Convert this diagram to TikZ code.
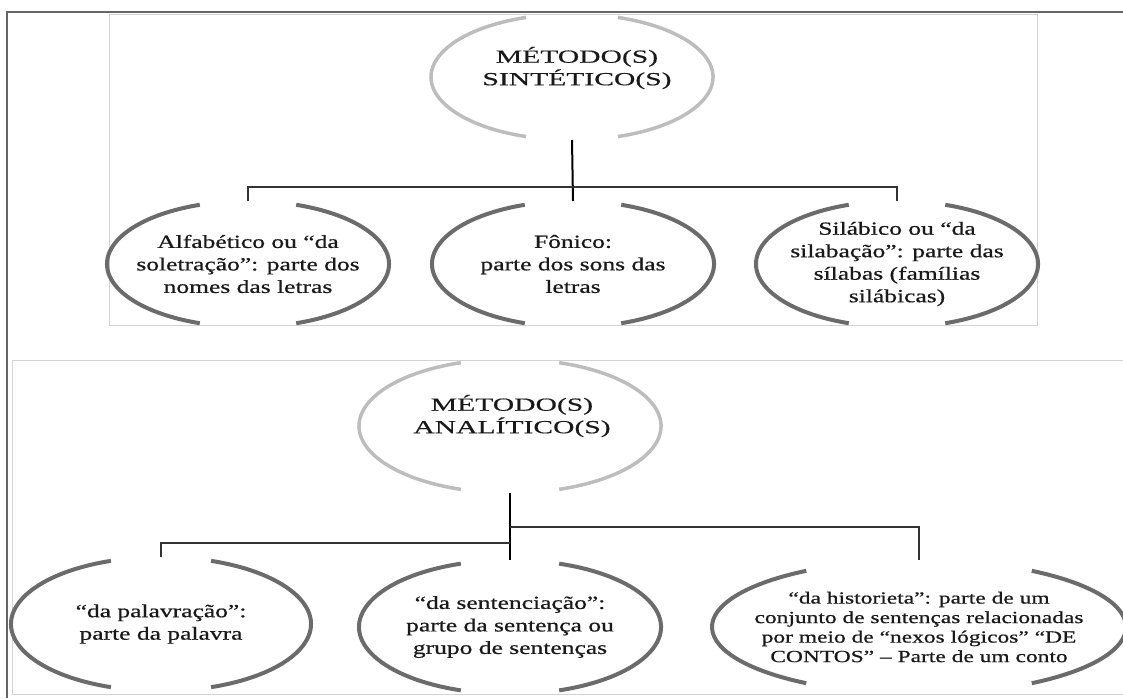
\documentclass[tikz,border=0pt]{standalone}
\usepackage{fontspec}
\setmainfont{Liberation Serif}[FakeStretch=1.38,FakeBold=0.7]
\newfontfamily\caixa{Liberation Serif}[FakeStretch=1.6,FakeBold=0.5]
\usepackage{tikz}
\usetikzlibrary{shapes.geometric}

\definecolor{cinzaclaro}{HTML}{BDBDBD}
\definecolor{cinzaesc}{HTML}{6B6B6B}
\definecolor{moldura}{HTML}{D3D3D3}

%Дуги эллипса с разрывами сверху и снизу: узел, rx, ry, угол, стиль
\newcommand{\arcos}[5]{%
\draw[#5] (#1.center) ++(-#4:#2 and #3) arc[start angle=-#4, end angle=#4, x radius=#2, y radius=#3];
\draw[#5] (#1.center) ++(180-#4:#2 and #3) arc[start angle=180-#4, end angle=180+#4, x radius=#2, y radius=#3];}

\tikzset{
elipse/.style={ellipse, inner sep=0pt, outer sep=0pt, align=center, text=black!90, font=\fontsize{18.5}{22.5}\selectfont},
texto/.style={inner sep=0pt, align=center, text=black!90, font=\caixa\fontsize{18.5}{22.5}\selectfont},
raiz/.style={line width=3.5pt, cinzaclaro},
filho/.style={line width=4pt, cinzaesc},
tronco/.style={line width=2pt, black},
ramo/.style={line width=1.5pt, black!80}
}

\begin{document}
\begin{tikzpicture}[x=1pt,y=-1pt]
\useasboundingbox (0,0) rectangle (1123,698);
%Рамки
\draw[line width=1.2pt,black!60] (7,698)--(7,12)--(1123,12);
\draw[moldura,line width=1pt] (109,15) rectangle (1037,325);
\draw[moldura,line width=1pt] (1130,360)--(12,360)--(12,694)--(1130,694);
%Синтетические методы
\node[elipse,minimum width=282pt,minimum height=126pt] (sint) at (572,77) {};
\node[texto] (sinttexto) at (577,68) {MÉTODO(S)\\SINTÉTICO(S)};
\node[elipse,minimum width=282pt,minimum height=126pt] (alfa) at (248,264) {Alfabético ou “da\\soletração”: parte dos\\nomes das letras};
\node[elipse,minimum width=282pt,minimum height=126pt] (fonico) at (573,264) {Fônico:\\parte dos sons das\\letras};
\node[elipse,minimum width=282pt,minimum height=126pt] (silabico) at (897,264) {Silábico ou “da\\silabação”: parte das\\sílabas (famílias\\silábicas)};
\arcos{sint}{141}{63}{71}{raiz}
\arcos{alfa}{141}{63}{70}{filho}
\arcos{fonico}{141}{63}{70}{filho}
\arcos{silabico}{141}{63}{70}{filho}
\coordinate (barra) at (572,187);
\draw[tronco] (sint.south)--(fonico.north);
\draw[ramo] (alfa.north) |- (barra) -| (silabico.north);
%Аналитические методы
\node[elipse,minimum width=302pt,minimum height=134pt] (anal) at (510,426) {};
\node[texto] (analtexto) at (512,416) {MÉTODO(S)\\ANALÍTICO(S)};
\node[elipse,minimum width=300pt,minimum height=134pt] (palavra) at (161,624) {“da palavração”:\\parte da palavra};
\node[elipse,minimum width=302pt,minimum height=134pt] (sentenca) at (510,627) {“da sentenciação”:\\parte da sentença ou\\grupo de sentenças};
\node[elipse,minimum width=414pt,minimum height=134pt,font=\fontsize{17}{19.5}\selectfont] (historia) at (919,627) {“da historieta”: parte de um\\conjunto de sentenças relacionadas\\por meio de “nexos lógicos” “DE\\CONTOS” – Parte de um conto};
\arcos{anal}{151}{67}{71}{raiz}
\arcos{palavra}{150}{67}{70.5}{filho}
\arcos{sentenca}{151}{67}{71}{filho}
\arcos{historia}{207}{67}{57}{filho}
\coordinate (ramo1) at (510,543);
\coordinate (ramo2) at (510,527);
\draw[tronco] (anal.south)--(sentenca.north);
\draw[ramo] (ramo1) -| (palavra.north);
\draw[ramo] (ramo2) -| (historia.north);
\end{tikzpicture}
\end{document}
